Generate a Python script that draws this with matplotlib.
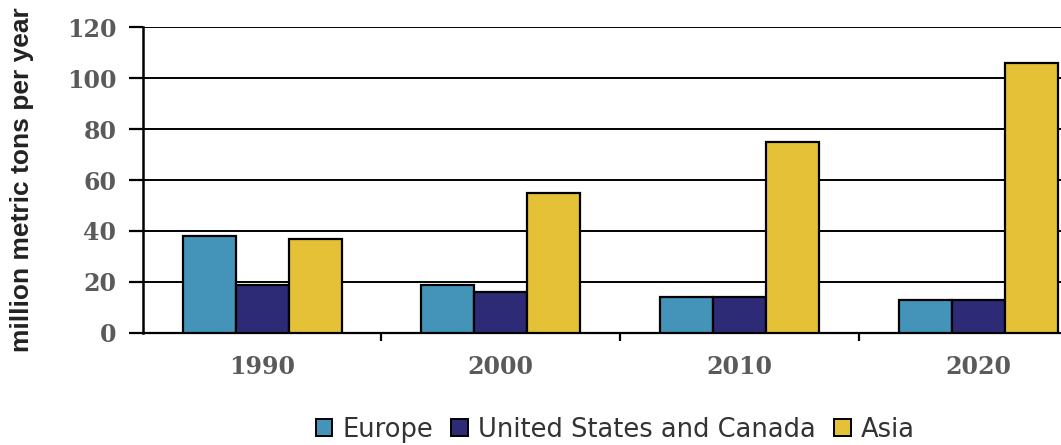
import numpy as np
import matplotlib
matplotlib.use('Agg')
import matplotlib.pyplot as plt
from matplotlib.patches import Patch

# data (million metric tons per year)
years = ['1990', '2000', '2010', '2020']
series = ['Europe', 'United States and Canada', 'Asia']
europe = [38, 19, 14, 13]
us_canada = [19, 16, 14, 13]
asia = [37, 55, 75, 106]
y_ticks = [0, 20, 40, 60, 80, 100, 120]

colors = ['#4494ba', '#2d2a76', '#e4c136']

fig = plt.figure(figsize=(10.61, 4.45), dpi=100)
ax = fig.add_axes([0.1345, 0.2517, 0.90, 0.6876])

x = np.arange(len(years))
w = 0.222
for i, (vals, c) in enumerate(zip([europe, us_canada, asia], colors)):
    ax.bar(x + (i - 1) * w, vals, width=w, color=c, edgecolor='black',
           linewidth=1.6, zorder=3)

ax.set_xlim(-0.5, 3.5)
ax.set_ylim(0, 120)
ax.set_yticks(y_ticks)
ax.yaxis.grid(True, color='black', linewidth=1.4, zorder=0)
ax.set_axisbelow(True)
for s in ['top', 'right']:
    ax.spines[s].set_visible(False)
ax.spines['left'].set_linewidth(1.8)
ax.spines['bottom'].set_linewidth(1.6)

# minor ticks at category boundaries, labels at centres
ax.set_xticks(x)
ax.set_xticklabels(years)
ax.tick_params(axis='x', length=0, pad=16)
ax.set_xticks(np.arange(0.5, 3.5, 1), minor=True)
ax.tick_params(axis='x', which='minor', length=6, width=1.6, direction='out')
ax.tick_params(axis='y', length=10, width=1.6, pad=9)

for lab in ax.get_xticklabels() + ax.get_yticklabels():
    lab.set_fontfamily('DejaVu Serif')
    lab.set_fontweight('bold')
    lab.set_fontsize(17)
    lab.set_color('#5a5a5a')

fig.text(0.021, 0.597, 'million metric tons per year', rotation=90,
         ha='center', va='center', fontsize=19, fontweight='bold',
         family='Liberation Sans', color='#222222')

handles = [Patch(facecolor=c, edgecolor='black', linewidth=1.4, label=s)
           for s, c in zip(series, colors)]
fig.legend(handles=handles, loc='center', bbox_to_anchor=(0.58, 0.034),
           ncol=3, frameon=False, fontsize=18.5, handlelength=0.65,
           handleheight=0.65, handletextpad=0.4, columnspacing=0.7,
           labelcolor='#333333')

fig.savefig('out.png', dpi=100)
